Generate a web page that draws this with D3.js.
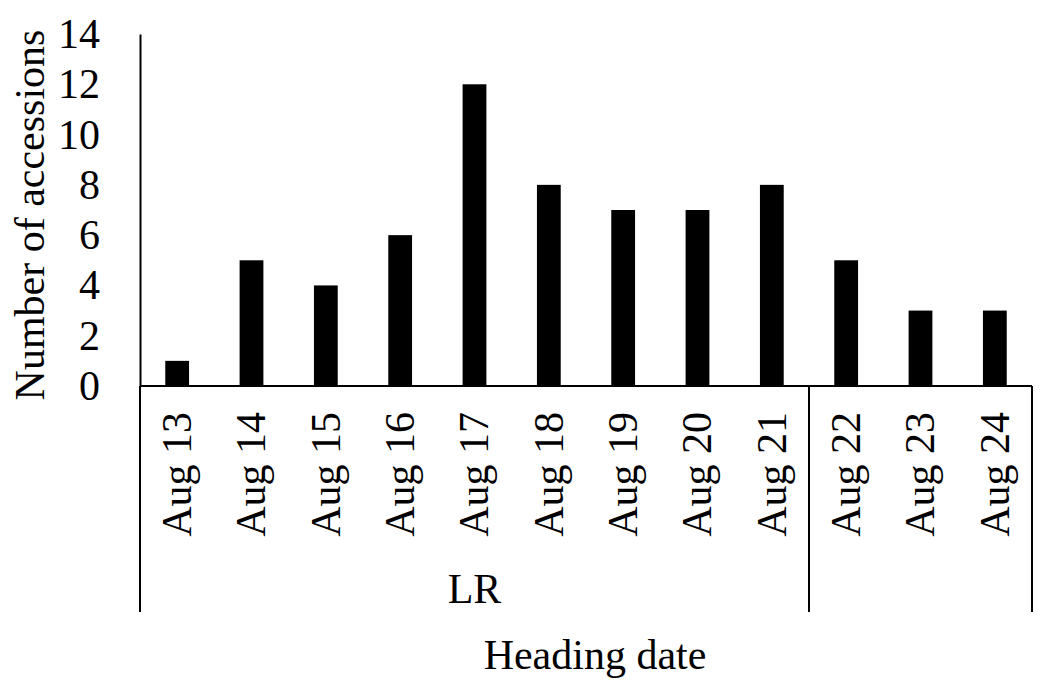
<!DOCTYPE html>
<html>
<head>
<meta charset="utf-8">
<script src="https://cdn.jsdelivr.net/npm/d3@7"></script>
<style>
  body { margin: 0; background: #fff; }
  text { font-family: "Liberation Serif", "Times New Roman", serif; fill: #000; }
</style>
</head>
<body>
<div class="chart"></div>
<script>
// chart data
let categories = ["Aug 13", "Aug 14", "Aug 15", "Aug 16", "Aug 17", "Aug 18",
                  "Aug 19", "Aug 20", "Aug 21", "Aug 22", "Aug 23", "Aug 24"]
let counts = [1, 5, 4, 6, 12, 8, 7, 7, 8, 5, 3, 3]
let yTicks = [0, 2, 4, 6, 8, 10, 12, 14]
// group brackets below the axis (second group has no label)
let groups = [
  { label: "LR", first: "Aug 13", last: "Aug 21" },
  { label: "", first: "Aug 22", last: "Aug 24" }
]

let w = 1046
let h = 685
let fs = 42

let svg = d3.select(".chart")
            .append("svg")
            .attr("width", w)
            .attr("height", h)

let x = d3.scaleBand()
  .domain(categories)
  .range([140, 1032])
  .paddingInner(0.68)
  .paddingOuter(0.34)

let y = d3.scaleLinear()
  .domain([0, 14])
  .range([386, 34])

// bars
svg.append("g").selectAll("rect")
  .data(counts)
  .enter()
  .append("rect")
  .attr("x", (d, i) => x(categories[i]))
  .attr("y", d => y(d))
  .attr("width", x.bandwidth())
  .attr("height", d => y(0) - y(d))
  .attr("fill", "#000")

// y axis
let yAxis = svg.append("g")
  .attr("transform", "translate(140,0)")
  .call(d3.axisLeft(y).tickValues(yTicks).tickSize(0).tickPadding(40))
yAxis.select(".domain").attr("stroke", "#000").attr("stroke-width", 2)
yAxis.selectAll("text")
  .style("font-family", "Liberation Serif, serif")
  .style("font-size", fs + "px")

// x axis line (at zero)
svg.append("line")
  .attr("x1", 140).attr("x2", 1032)
  .attr("y1", y(0)).attr("y2", y(0))
  .attr("stroke", "#000").attr("stroke-width", 2)

// rotated category labels
svg.append("g").selectAll("text")
  .data(categories)
  .enter()
  .append("text")
  .attr("transform", d => "translate(" + (x(d) + x.bandwidth() / 2) + ",412) rotate(-90)")
  .attr("text-anchor", "end")
  .attr("dy", "0.33em")
  .style("font-size", fs + "px")
  .text(d => d)

// group bracket lines and labels
let gap = (x.step() - x.bandwidth()) / 2
let edges = [140]
groups.forEach(g => edges.push(x(g.last) + x.bandwidth() + gap))
svg.append("g").selectAll("line")
  .data(edges)
  .enter()
  .append("line")
  .attr("x1", d => d).attr("x2", d => d)
  .attr("y1", y(0)).attr("y2", 612)
  .attr("stroke", "#000").attr("stroke-width", 2)

svg.append("g").selectAll("text")
  .data(groups)
  .enter()
  .append("text")
  .attr("x", g => (x(g.first) + x(g.last) + x.bandwidth()) / 2)
  .attr("y", 603)
  .attr("text-anchor", "middle")
  .style("font-size", fs + "px")
  .text(g => g.label)

// axis titles
svg.append("text")
  .attr("x", 595)
  .attr("y", 669)
  .attr("text-anchor", "middle")
  .style("font-size", fs + "px")
  .text("Heading date")

svg.append("text")
  .attr("transform", "translate(44,215) rotate(-90)")
  .attr("text-anchor", "middle")
  .style("font-size", fs + "px")
  .text("Number of accessions")
</script>
</body>
</html>
